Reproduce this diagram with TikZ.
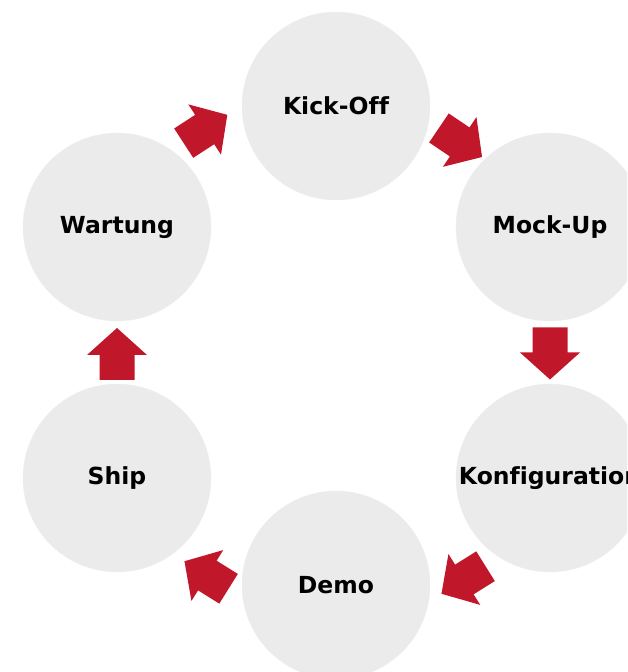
\documentclass[tikz,border=0pt]{standalone}
\usepackage{fontspec}
\setmainfont[Ligatures=NoCommon]{DejaVu Sans}
\definecolor{circfill}{HTML}{EBEBEB}
\definecolor{arrred}{HTML}{C0182A}
\tikzset{
  stage/.style={circle, fill=circfill, draw=circfill!80!white, minimum size=188pt, inner sep=0pt, font=\bfseries\fontsize{23.5}{28}\selectfont},
  blockarr/.style={fill=arrred, draw=none}
}
\newcommand{\blockarrow}[4]{% name, x, y, angle
  \begin{scope}[shift={(#2,#3)}, rotate=#4]
    \fill[blockarr] (-26,-17.5) -- (-1,-17.5) -- (-1,-30) -- (26,0) -- (-1,30) -- (-1,17.5) -- (-26,17.5) -- cycle;
    \coordinate (#1) at (0,0);
  \end{scope}}
\begin{document}
\begin{tikzpicture}[x=1pt,y=1pt]
  \useasboundingbox (0,0) rectangle (627,672);
  \clip (0,0) rectangle (627,672);
  \node[stage] (kick) at (336,566) {Kick-Off};
  \node[stage] (mock) at (550,445) {Mock-Up};
  \node[stage] (konf) at (550,194) {Konfiguration};
  \node[stage] (demo) at (336,87) {Demo};
  \node[stage] (ship) at (117,194) {Ship};
  \node[stage] (wart) at (117,445) {Wartung};
  \blockarrow{a1}{205.5}{543}{33}
  \blockarrow{a2}{460.5}{529.5}{-34}
  \blockarrow{a3}{550}{318.5}{-90}
  \blockarrow{a4}{463.5}{92}{212}
  \blockarrow{a5}{206.5}{97}{148}
  \blockarrow{a6}{117}{318}{90}
\end{tikzpicture}
\end{document}
